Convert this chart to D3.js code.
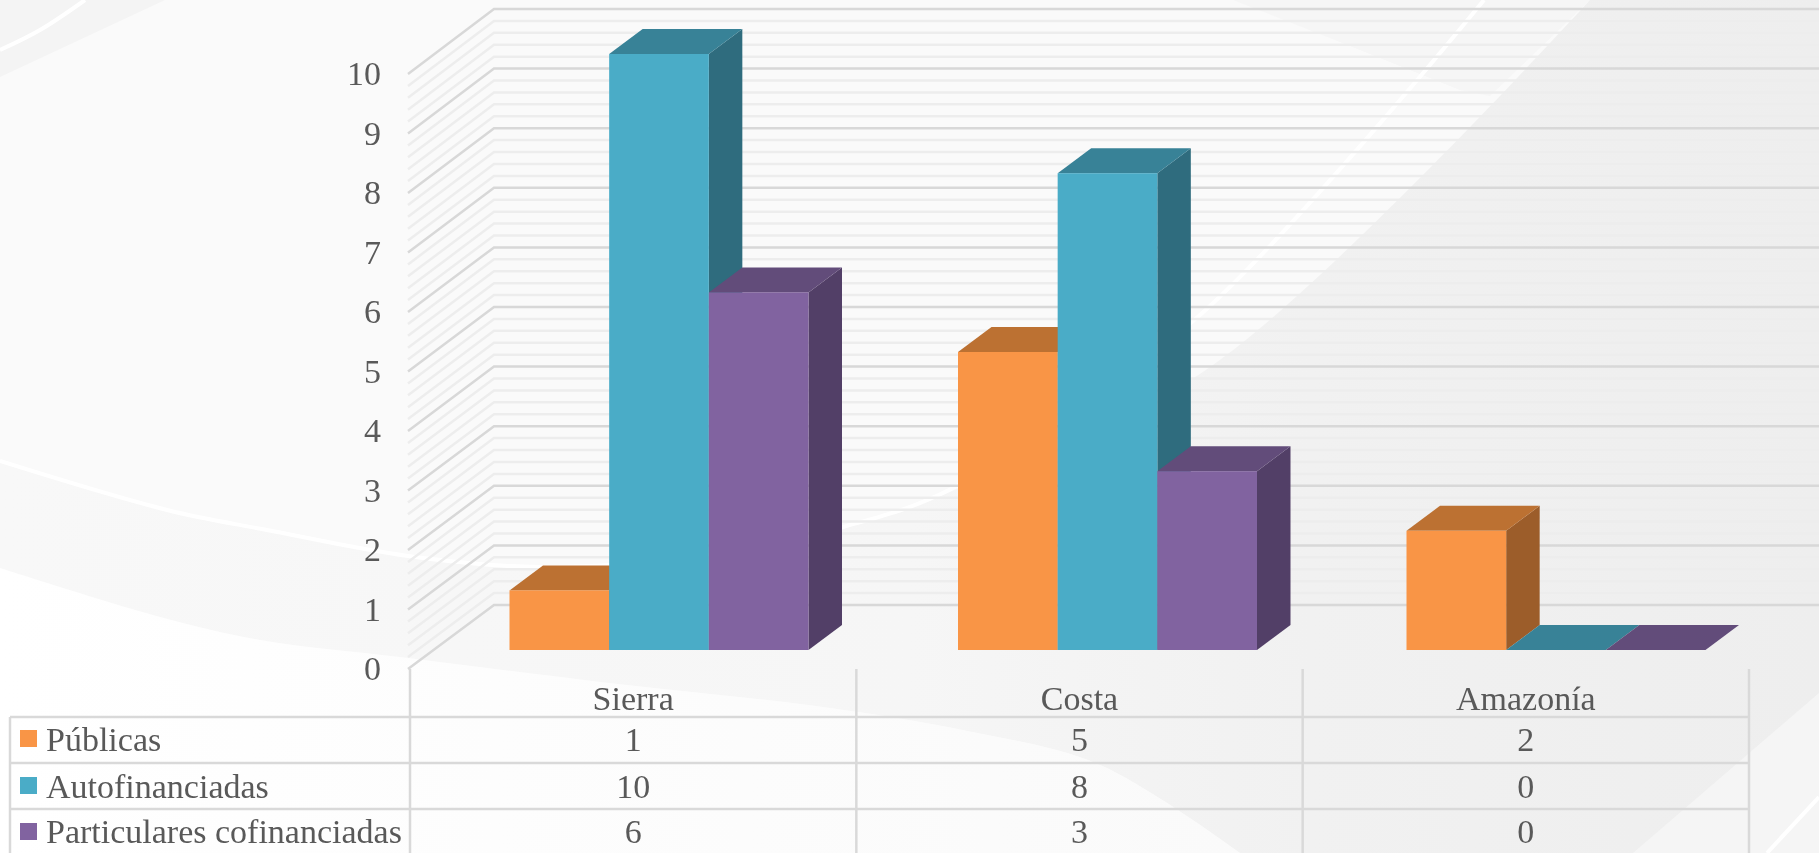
<!DOCTYPE html>
<html>
<head>
<meta charset="utf-8">
<script src="https://cdn.jsdelivr.net/npm/d3@7"></script>
<style>
html,body{margin:0;padding:0;background:#fafafa;overflow:hidden}
svg{display:block;filter:blur(0.5px)}
text{font-family:"Liberation Serif",serif;fill:#595959}
</style>
</head>
<body>
<div id="viz"></div>
<script>
var categories=["Sierra","Costa","Amazonía"];
var seriesNames=["Públicas","Autofinanciadas","Particulares cofinanciadas"];
var publicas=[1,5,2];
var autofinanciadas=[10,8,0];
var particulares=[6,3,0];
var seriesValues=[publicas,autofinanciadas,particulares];
var yTicks=[0,1,2,3,4,5,6,7,8,9,10];
var frontColors=["#F99546","#4AACC7","#8163A0"];
var topColors=["#BC7132","#388297","#624C7A"];
var sideColors=["#9C5D2A","#2F6C7E","#523F67"];

var width=1819,height=853;
var svg=d3.select("#viz").append("svg").attr("width",width).attr("height",height);
var defs=svg.append("defs");

// slide background, drawn behind the chart
var grad=defs.append("linearGradient").attr("id","bandGrad");
grad.append("stop").attr("offset","0%").attr("stop-color","#f8f8f8");
grad.append("stop").attr("offset","50%").attr("stop-color","#f6f6f6");
grad.append("stop").attr("offset","72%").attr("stop-color","#f1f1f1");
grad.append("stop").attr("offset","90%").attr("stop-color","#efefef");
grad.append("stop").attr("offset","100%").attr("stop-color","#eeeeee");
var whiteGrad=defs.append("linearGradient").attr("id","whiteGrad");
whiteGrad.append("stop").attr("offset","0%").attr("stop-color","#ffffff");
whiteGrad.append("stop").attr("offset","100%").attr("stop-color","#fafafa");

var curve=d3.line().curve(d3.curveCatmullRom);
var whiteCurve=[[0,461],[167,510],[267,530],[408,556],[540,567],[700,556],[843,527],[955,487],[1200,315],[1484,0]];
var lowerCurve=[[0,568],[160,617],[260,640],[408,658],[600,682],[830,708],[967,731],[1100,765],[1240,853]];
var edgeCurve=[[843,527],[955,490],[1213,365],[1590,0]];

var bg=svg.append("g");
bg.append("rect").attr("width",width).attr("height",height).attr("fill","#fafafa");
bg.append("path").attr("fill","#f6f6f6").attr("d","M1233,0L1340,42L1460,90L1490,96L1590,0Z");
bg.append("path").attr("fill","url(#bandGrad)")
  .attr("d",curve(whiteCurve.slice(0,7))+"L"+curve(edgeCurve).slice(1)
    +"L1819,0L1819,853L"+curve(lowerCurve.slice().reverse()).slice(1)+"Z");
bg.append("path").attr("fill","url(#whiteGrad)")
  .attr("d",curve(lowerCurve)+"L0,853Z");
bg.append("path").attr("fill","#f4f4f4").attr("d","M0,0L165,0L0,77Z");
bg.append("path").attr("fill","#f5f5f5").attr("d","M1819,693L1633,853L1819,853Z");
bg.selectAll("path.wline")
  .data([whiteCurve,[[0,50],[40,30],[85,0]],[[1819,797],[1767,853]]])
  .enter().append("path").attr("class","wline")
  .attr("d",curve).attr("fill","none").attr("stroke","#ffffff").attr("stroke-width",4);

// y is measured on the back wall, the floor goes forward from it
var y=d3.scaleLinear().domain([0,10]).range([605,9]);
var yFront=d3.scaleLinear().domain([0,10]).range([669,74]);
var wallX=494,frontX=408;

var minor=[];
for(var i=0;i<=50;i++){ if(i%5!=0) minor.push(i/5); }

function gridPath(v){
  return "M"+frontX+","+yFront(v)+"L"+wallX+","+y(v)+"L"+width+","+y(v);
}
svg.append("g").selectAll("path").data(minor).enter().append("path")
  .attr("d",gridPath).attr("fill","none").attr("stroke","#ededed").attr("stroke-width",2.5);
svg.append("g").selectAll("path").data(yTicks).enter().append("path")
  .attr("d",gridPath).attr("fill","none").attr("stroke","#d8d8d8").attr("stroke-width",2.5);

// y axis labels
var yAxis=d3.axisLeft(yFront).tickValues(yTicks).tickSize(0).tickPadding(0);
var axisG=svg.append("g").attr("transform","translate(381,0)").call(yAxis);
axisG.select(".domain").remove();
axisG.selectAll("text").style("font-size","34px").style("font-family","Liberation Serif").attr("fill","#595959");

// bars
var x0=d3.scaleBand().domain(categories).range([435,1780.5]);
var x1=d3.scaleBand().domain(seriesNames).range([74.5,373.5]);
var floorShift=45,depthX=33.5,depthY=25;

var bars=[];
categories.forEach(function(c,ci){
  seriesNames.forEach(function(s,si){
    bars.push({cat:c,ser:s,si:si,value:seriesValues[si][ci]});
  });
});

var barG=svg.append("g").selectAll("g").data(bars).enter().append("g");
function pts(arr){ return arr.map(function(p){return p.join(",");}).join(" "); }
barG.each(function(d){
  var g=d3.select(this);
  var xl=x0(d.cat)+x1(d.ser),xr=xl+x1.bandwidth();
  var yt=y(d.value)+floorShift,yb=y(0)+floorShift;
  if(d.value>0){
    g.append("polygon").attr("fill",sideColors[d.si])
      .attr("points",pts([[xr,yt],[xr+depthX,yt-depthY],[xr+depthX,yb-depthY],[xr,yb]]));
  }
  g.append("polygon").attr("fill",topColors[d.si])
    .attr("points",pts([[xl,yt],[xl+depthX,yt-depthY],[xr+depthX,yt-depthY],[xr,yt]]));
  if(d.value>0){
    g.append("rect").attr("x",xl).attr("y",yt).attr("width",xr-xl).attr("height",yb-yt)
      .attr("fill",frontColors[d.si]);
  }
});

// data table
var tableX=d3.scaleBand().domain(categories).range([410,1749]);
var rowLines=[717,763,809];
var rowBase=[751,798,843];
var keyY=[730,777,823];
var tableLeft=10;
var grid=svg.append("g").attr("stroke","#d9d9d9").attr("stroke-width",2.5);
grid.selectAll("line.h").data(rowLines).enter().append("line").attr("class","h")
  .attr("x1",tableLeft).attr("x2",1749).attr("y1",function(d){return d;}).attr("y2",function(d){return d;});
grid.append("line").attr("x1",tableLeft).attr("x2",tableLeft).attr("y1",717).attr("y2",height);
grid.selectAll("line.v").data(categories).enter().append("line").attr("class","v")
  .attr("x1",function(d){return tableX(d);}).attr("x2",function(d){return tableX(d);})
  .attr("y1",669).attr("y2",height);
grid.append("line").attr("x1",1749).attr("x2",1749).attr("y1",669).attr("y2",height);

svg.append("g").selectAll("text").data(categories).enter().append("text")
  .attr("x",function(d){return tableX(d)+tableX.bandwidth()/2;})
  .attr("y",710).attr("text-anchor","middle").attr("font-size",34)
  .text(function(d){return d;});

seriesNames.forEach(function(s,si){
  svg.append("rect").attr("x",20).attr("y",keyY[si]).attr("width",17).attr("height",17).attr("fill",frontColors[si]);
  svg.append("text").attr("x",46).attr("y",rowBase[si]).attr("font-size",34).text(s);
  svg.append("g").selectAll("text").data(seriesValues[si]).enter().append("text")
    .attr("x",function(d,i){return tableX(categories[i])+tableX.bandwidth()/2;})
    .attr("y",rowBase[si]).attr("text-anchor","middle").attr("font-size",34)
    .text(function(d){return d;});
});
</script>
</body>
</html>
